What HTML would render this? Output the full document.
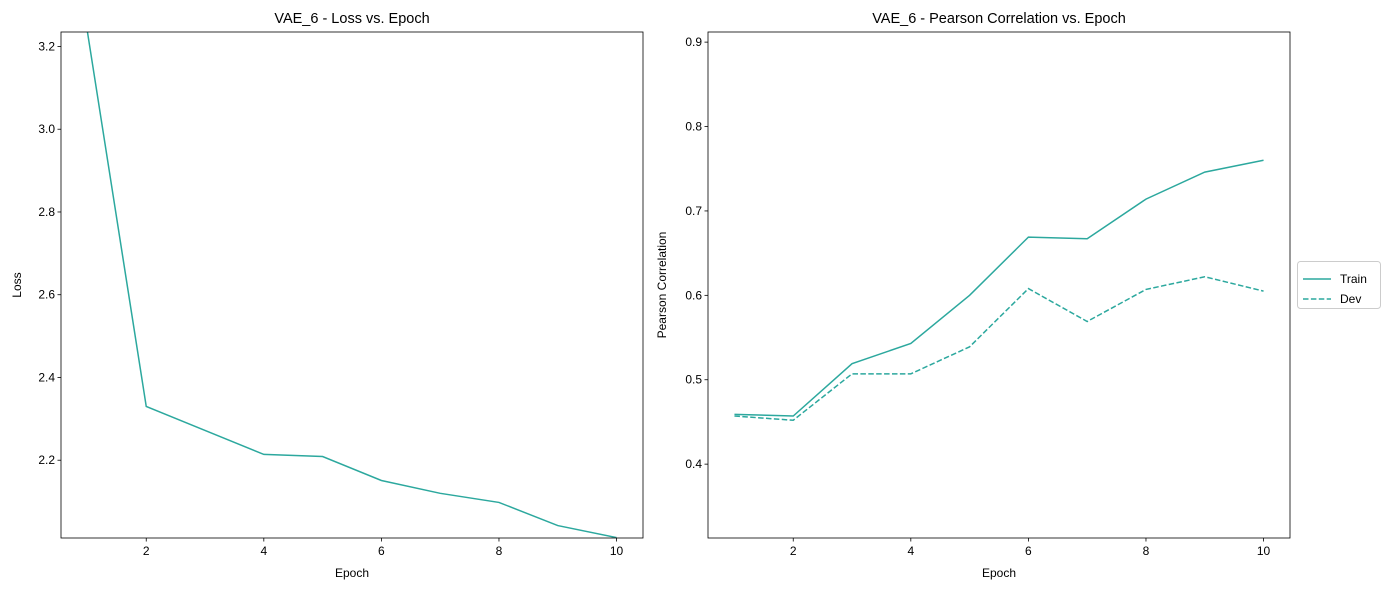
<!DOCTYPE html>
<html><head><meta charset="utf-8"><style>
body{margin:0;background:#fff;}
svg text{font-family:"Liberation Sans","DejaVu Sans",sans-serif;fill:#000;}
</style></head><body>
<svg id="c" width="1390" height="590" xmlns="http://www.w3.org/2000/svg"></svg>
<script>
const epochs=[1,2,3,4,5,6,7,8,9,10];
const lossValues=[3.235,2.330,2.272,2.214,2.209,2.151,2.120,2.098,2.042,2.013];
const trainCorr=[0.459,0.457,0.519,0.543,0.600,0.669,0.667,0.714,0.746,0.760];
const devCorr=[0.457,0.452,0.507,0.507,0.539,0.608,0.569,0.607,0.622,0.605];
const xTicks=[2,4,6,8,10];
const lossTicks=[2.2,2.4,2.6,2.8,3.0,3.2];
const corrTicks=[0.4,0.5,0.6,0.7,0.8,0.9];
const COLOR="#2ca89e";
const svg=document.getElementById('c');
const NS="http://www.w3.org/2000/svg";
function mk(t,a,p){const e=document.createElementNS(NS,t);for(const k in a)e.setAttribute(k,a[k]);(p||svg).appendChild(e);return e;}
function panel(o){
  const g=mk('g',{});
  
  
  const sx=v=>o.x0+(v-o.xmin)/(o.xmax-o.xmin)*(o.x1-o.x0);
  const sy=v=>o.y1-(v-o.ymin)/(o.ymax-o.ymin)*(o.y1-o.y0);
  const clipId='clip'+o.name;
  const cp=mk('clipPath',{id:clipId},g);mk('rect',{x:o.x0,y:o.y0,width:o.x1-o.x0,height:o.y1-o.y0},cp);
  o.series.forEach(s=>{
    const pts=epochs.map((e,i)=>sx(e)+','+sy(s.vals[i])).join(' ');
    const l=mk('polyline',{points:pts,fill:'none',stroke:COLOR,'stroke-width':1.5,'clip-path':'url(#'+clipId+')'},g);
    if(s.dash)l.setAttribute('stroke-dasharray','5.5,2.4');
    
    
  });
  const fr=mk('rect',{x:o.x0,y:o.y0,width:o.x1-o.x0,height:o.y1-o.y0,fill:'none',stroke:'#000','stroke-width':0.8},g);
  
  
  xTicks.forEach(t=>{const x=sx(t);mk('line',{x1:x,x2:x,y1:o.y1,y2:o.y1+3.5,stroke:'#000','stroke-width':0.8},g);
    const tx=mk('text',{x:x,y:o.y1+17,'font-size':12,'text-anchor':'middle'},g);tx.textContent=t;
    
    });
  o.yticks.forEach(t=>{const y=sy(t);if(y<o.y0-1||y>o.y1+1)return;mk('line',{x1:o.x0-3.5,x2:o.x0,y1:y,y2:y,stroke:'#000','stroke-width':0.8},g);
    const tx=mk('text',{x:o.x0-6,y:y+4,'font-size':12,'text-anchor':'end'},g);tx.textContent=t.toFixed(1);
    
    });
  const ti=mk('text',{x:(o.x0+o.x1)/2,y:o.y0-9,'font-size':14.5,'text-anchor':'middle'},g);ti.textContent=o.title;
  
  
  const xl=mk('text',{x:(o.x0+o.x1)/2,y:o.y1+39,'font-size':12,'text-anchor':'middle'},g);xl.textContent='Epoch';
  
  
  const yx=o.ylx,yy=(o.y0+o.y1)/2;
  const yl=mk('text',{x:yx,y:yy,'font-size':12,'text-anchor':'middle',transform:'rotate(-90 '+yx+' '+yy+')'},g);yl.textContent=o.ylabel;
  
  
}
panel({name:'loss-panel',x0:61,x1:643,y0:32,y1:538,xmin:0.55,xmax:10.45,ymin:2.012,ymax:3.235,yticks:lossTicks,
  title:'VAE_6 - Loss vs. Epoch',ylabel:'Loss',ylx:21,series:[{name:'loss-line',vals:lossValues}]});
panel({name:'pearson-panel',x0:708,x1:1290,y0:32,y1:538,xmin:0.55,xmax:10.45,ymin:0.3125,ymax:0.912,yticks:corrTicks,
  title:'VAE_6 - Pearson Correlation vs. Epoch',ylabel:'Pearson Correlation',ylx:666,
  series:[{name:'train-line',vals:trainCorr},{name:'dev-line',vals:devCorr,dash:true}]});
// legend
const lg=mk('g',{});


mk('rect',{x:1297.5,y:261.5,width:83,height:47,rx:3,fill:'#fff',stroke:'#ccc'},lg);
[['Train',false,279],['Dev',true,299]].forEach(([n,d,y])=>{
  const l=mk('line',{x1:1303,x2:1331,y1:y,y2:y,stroke:COLOR,'stroke-width':1.5},lg);
  if(d)l.setAttribute('stroke-dasharray','5.5,2.4');
  const t=mk('text',{x:1340,y:y+4,'font-size':12},lg);t.textContent=n;
  
  
});
</script>
</body></html>
